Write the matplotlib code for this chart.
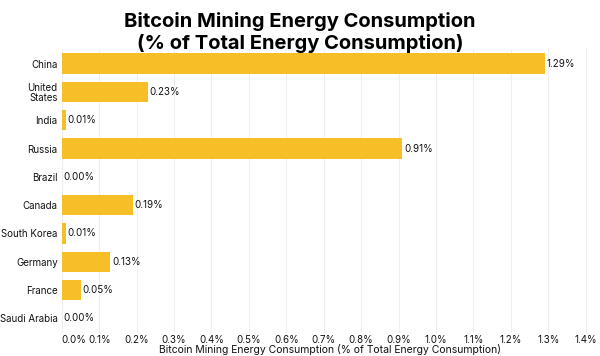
import matplotlib
matplotlib.use("Agg")
import matplotlib.pyplot as plt

countries = ["China", "United\nStates", "India", "Russia", "Brazil", "Canada",
             "South Korea", "Germany", "France", "Saudi Arabia"]
values = [1.29, 0.23, 0.01, 0.91, 0.00, 0.19, 0.01, 0.13, 0.05, 0.00]
labels = ["1.29%", "0.23%", "0.01%", "0.91%", "0.00%", "0.19%", "0.01%", "0.13%", "0.05%", "0.00%"]
xticks = [i / 10 for i in range(15)]
xticklabels = [f"{t:.1f}%" for t in xticks]

plt.rcParams['font.family'] = ['Inter', 'DejaVu Sans']

fig = plt.figure(figsize=(6, 3.56), dpi=100)
ax = fig.add_axes([0.103, 0.066, 0.895, 0.795])
y = list(range(len(countries)))
ax.barh(y, values, height=0.72, color='#F6BE27', zorder=2)
for yi, v, lab in zip(y, values, labels):
    ax.text(v + 0.005, yi, lab, va='center', ha='left', fontsize=7, color='#111111')
ax.set_yticks(y)
ax.set_yticklabels(countries, fontsize=7, color='#111111', linespacing=1.0)
ax.set_ylim(len(countries) - 0.5, -0.5)
ax.set_xlim(0, 1.435)
ax.set_xticks(xticks)
ax.set_xticklabels(xticklabels, fontsize=7, color='#111111')
ax.get_xticklabels()[0].set_horizontalalignment('left')
ax.tick_params(length=0, pad=2)
ax.tick_params(axis='y', pad=3)
ax.grid(axis='x', color='#EEEEEE', linewidth=0.8, zorder=0)
for s in ax.spines.values():
    s.set_visible(False)
fig.text(0.5, 0.965, "Bitcoin Mining Energy Consumption\n(% of Total Energy Consumption)",
         ha='center', va='top', fontsize=14.5, fontweight='bold', linespacing=1.15)
fig.text(0.55, 0.002, "Bitcoin Mining Energy Consumption (% of Total Energy Consumption)",
         ha='center', va='bottom', fontsize=7.5, color='#111111')
fig.savefig("out.png", dpi=100)
